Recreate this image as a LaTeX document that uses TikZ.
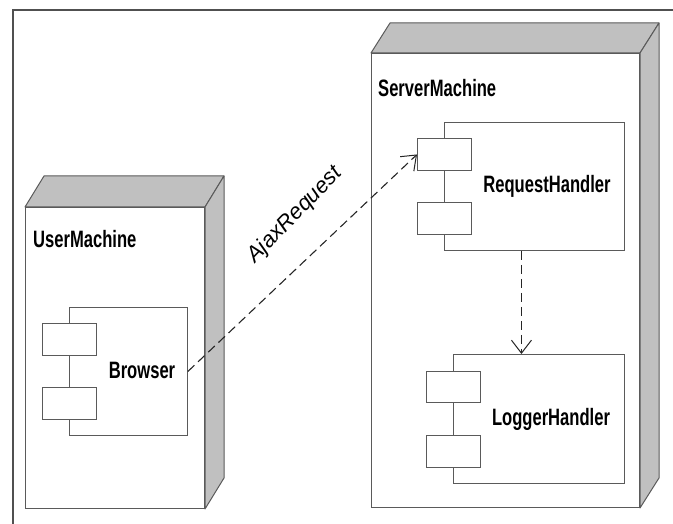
\documentclass[tikz,border=0pt]{standalone}
\usepackage{fontspec}
\usetikzlibrary{arrows.meta}
\newfontfamily\narrowsans[FakeStretch=0.7]{Liberation Sans}
\newfontfamily\labelsans{Liberation Sans}
\definecolor{edgegray}{HTML}{5A5A5A}
\definecolor{shadegray}{HTML}{C0C0C0}
\definecolor{framegray}{HTML}{505050}
\tikzset{
  nodeface/.style={draw=edgegray, line width=1pt, fill=white, inner sep=0pt, anchor=north west},
  nodeshade/.style={draw=edgegray, line width=1pt, fill=shadegray, line join=round},
  compbox/.style={draw=edgegray, line width=0.9pt, fill=white, inner sep=0pt, anchor=north west},
  portbox/.style={draw=edgegray, line width=0.9pt, fill=white, inner sep=0pt, anchor=north west,
                  minimum width=54pt, minimum height=32pt},
  nodetitle/.style={font=\narrowsans\bfseries\fontsize{23.7}{28}\selectfont, anchor=west, inner sep=0pt},
  comptitle/.style={font=\narrowsans\bfseries\fontsize{23.7}{28}\selectfont, inner sep=0pt},
  depline/.style={draw=black!85, line width=1.1pt, dash pattern=on 9pt off 5pt,
                  -{Straight Barb[length=13pt,width=20pt,line width=1pt]}},
  deplabel/.style={font=\labelsans\itshape\fontsize{22}{26}\selectfont, inner sep=0pt, rotate=46},
}
\begin{document}
\begin{tikzpicture}[x=1pt,y=-1pt]
  \useasboundingbox (0,0) rectangle (673,524);

  % page frame (top and left edges)
  \draw[framegray, line width=1.4pt] (13,524) -- (13,10) -- (673,10);

  % ---- UserMachine node ----
  \node[nodeface, minimum width=179pt, minimum height=301pt] (user) at (25,207) {};
  \path[nodeshade] (user.north west) -- ++(19,-31) -- ([xshift=19pt,yshift=31pt]user.north east)
        -- (user.north east) -- cycle;
  \path[nodeshade] (user.north east) -- ++(19,-31) -- ([xshift=19pt,yshift=31pt]user.south east)
        -- (user.south east) -- cycle;
  \node[nodetitle] (usertitle) at (33,239) {UserMachine};

  % Browser component
  \node[compbox, minimum width=118pt, minimum height=128pt] (browser) at (69,307) {};
  \node[portbox] (bport1) at (42,323) {};
  \node[portbox] (bport2) at (42,387) {};
  \node[comptitle] (browserlbl) at (142,370) {Browser};

  % ---- ServerMachine node ----
  \node[nodeface, minimum width=268pt, minimum height=454pt] (server) at (371,53) {};
  \path[nodeshade] (server.north west) -- ++(19,-30) -- ([xshift=19pt,yshift=30pt]server.north east)
        -- (server.north east) -- cycle;
  \path[nodeshade] (server.north east) -- ++(19,-30) -- ([xshift=19pt,yshift=30pt]server.south east)
        -- (server.south east) -- cycle;
  \node[nodetitle] (servertitle) at (378,88) {ServerMachine};

  % RequestHandler component
  \node[compbox, minimum width=180pt, minimum height=128pt] (reqh) at (444,122) {};
  \node[portbox] (rport1) at (417,138) {};
  \node[portbox] (rport2) at (417,202) {};
  \node[comptitle] (reqhlbl) at (547,186) {RequestHandler};

  % LoggerHandler component
  \node[compbox, minimum width=171pt, minimum height=129pt] (logh) at (453,354) {};
  \node[portbox, minimum height=31pt] (lport1) at (426,371) {};
  \node[portbox] (lport2) at (426,435) {};
  \node[comptitle] (loghlbl) at (551,419) {LoggerHandler};

  % ---- dependencies ----
  \draw[depline] (browser.east) -- (rport1.west);
  \node[deplabel] (ajaxlbl) at (295,215) {AjaxRequest};
  \draw[depline] ([xshift=-13pt]reqh.south) -- ([xshift=-13pt]reqh.south |- logh.north);
\end{tikzpicture}
\end{document}
